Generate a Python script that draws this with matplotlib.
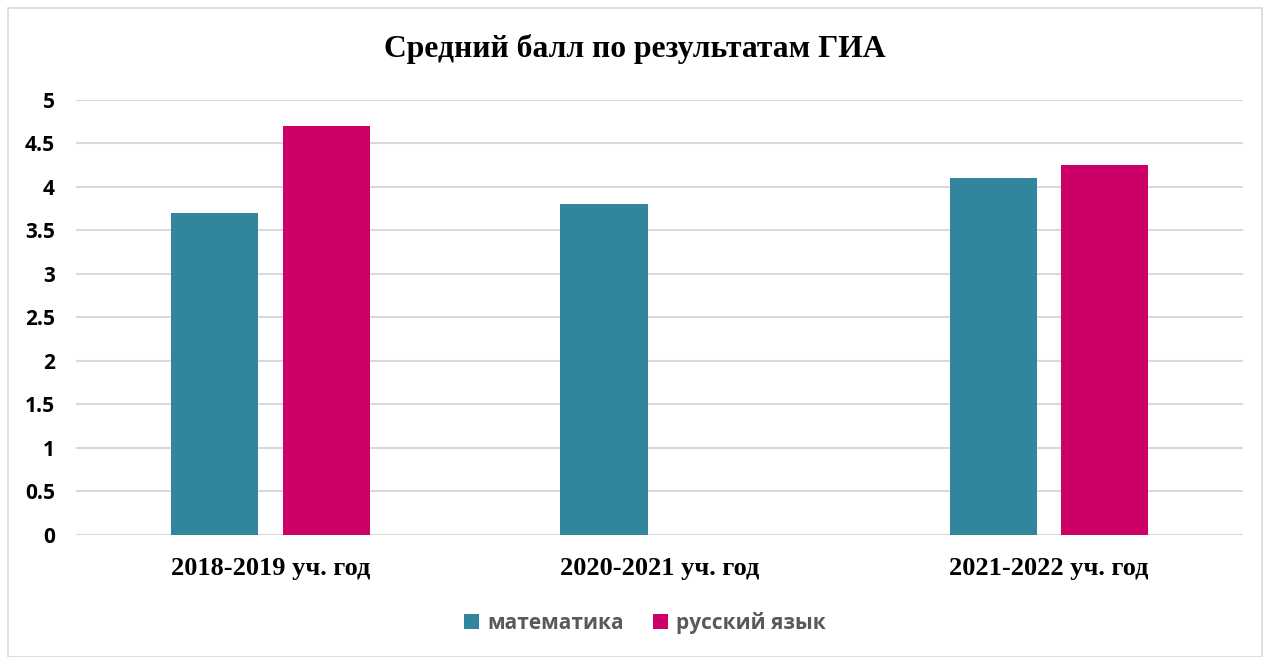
import numpy as np
import matplotlib
matplotlib.use('Agg')
import matplotlib.pyplot as plt
from matplotlib.patches import Rectangle

categories = ["2018-2019 уч. год", "2020-2021 уч. год", "2021-2022 уч. год"]
math_vals = [3.7, 3.8, 4.1]
rus_vals = [4.7, np.nan, 4.25]
series_names = ["математика", "русский язык"]
colors = ["#31859C", "#CC0066"]

fig = plt.figure(figsize=(12.7, 6.57), dpi=100)
ax = fig.add_axes([0.0598, 0.1857, 0.9192, 0.6623])

x = np.arange(len(categories))
w = 0.224
off = 0.143
ax.bar(x - off, math_vals, w, color=colors[0], label=series_names[0], zorder=3)
ax.bar(x + off, rus_vals, w, color=colors[1], label=series_names[1], zorder=3)

ax.set_xlim(-0.5, 2.5)
ax.set_ylim(0, 5)
ax.set_yticks(np.arange(0, 5.01, 0.5))
ax.set_yticklabels(["0", "0.5", "1", "1.5", "2", "2.5", "3", "3.5", "4", "4.5", "5"],
                   fontfamily="Open Sans", fontweight="bold", fontsize=15)
ax.set_xticks(x)
ax.set_xticklabels(categories, fontfamily="Liberation Serif", fontweight="bold", fontsize=19)
ax.tick_params(axis='both', length=0)
ax.tick_params(axis='y', pad=15)
ax.tick_params(axis='x', pad=16)
ax.grid(axis='y', color="#D9D9D9", linewidth=1.5, zorder=0)
for s in ax.spines.values():
    s.set_visible(False)

fig.text(0.5, 0.925, "Средний балл по результатам ГИА", ha='center', va='center',
         fontfamily="Liberation Serif", fontweight="bold", fontsize=22.8)

leg = fig.legend(loc='center', bbox_to_anchor=(0.508, 0.052), ncol=2, frameon=False,
                 prop={'family': 'Open Sans', 'weight': 'bold', 'size': 15},
                 handlelength=0.7, handleheight=0.7, handletextpad=0.4, columnspacing=1.4)
for t in leg.get_texts():
    t.set_color("#595959")

fig.patches.append(Rectangle((8 / 1270, 0), 1 - 16 / 1270, 1 - 8 / 657, transform=fig.transFigure,
                             fill=False, edgecolor="#D9D9D9", linewidth=1.2))

fig.savefig("out.png", dpi=100)
